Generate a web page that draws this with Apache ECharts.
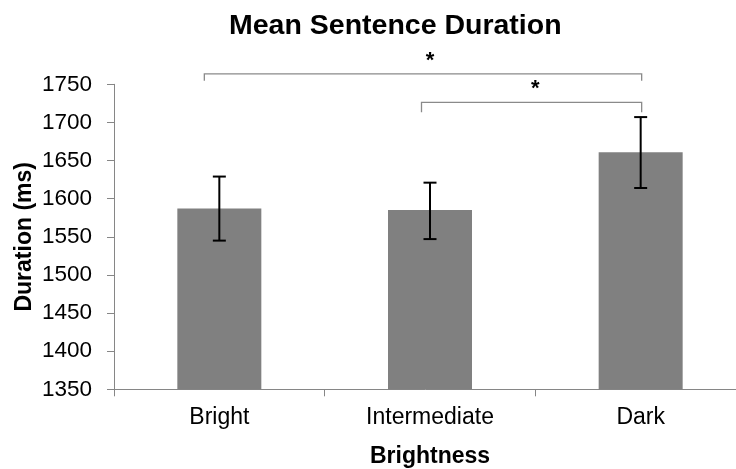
<!DOCTYPE html>
<html>
<head>
<meta charset="utf-8">
<script src="https://cdn.jsdelivr.net/npm/echarts@6/dist/echarts.min.js"></script>
<style>html,body{margin:0;padding:0;background:#fff}#chart{width:736px;height:469px}</style>
</head>
<body>
<div id="chart"></div>
<script>
const categories = ['Bright', 'Intermediate', 'Dark'];
const means = [1587, 1585, 1661];
const errLow = [1545, 1547, 1614];
const errHigh = [1629, 1621, 1707];
const yMin = 1350;
const yMax = 1750;
const yStep = 50;
const sigPairs = [[0, 2], [1, 2]];
const sigLabels = ['*', '*'];

const FONT = 'Liberation Sans, Arial, sans-serif';
const AXIS = '#868686';

// bracket drawing parameters (pixels relative to top of value axis)
const bracketLevel = [-10.5, 18];
const bracketLeg = [7, 10];
const bracketLeftPad = [-15, -8.5];
const bracketRightPad = [1, 1];

const chart = echarts.init(document.getElementById('chart'), null, {renderer: 'canvas'});

chart.setOption({
  animation: false,
  backgroundColor: '#fff',
  title: {
    text: 'Mean Sentence Duration',
    left: 224,
    top: 7,
    textStyle: {fontFamily: FONT, fontWeight: 'bold', fontSize: 28.5, color: '#000'}
  },
  grid: {left: 114, right: -10, top: 84.3, bottom: 79.7, containLabel: false, outerBoundsMode: 'none'},
  xAxis: {
    type: 'category',
    data: categories,
    boundaryGap: true,
    name: 'Brightness',
    nameLocation: 'middle',
    nameGap: 56,
    nameTextStyle: {fontFamily: FONT, fontWeight: 'bold', fontSize: 23, color: '#000'},
    axisLine: {show: true, lineStyle: {color: AXIS, width: 1}},
    axisTick: {show: true, length: 7, interval: 0, alignWithLabel: false, lineStyle: {color: AXIS}},
    axisLabel: {fontFamily: FONT, fontSize: 23, color: '#000', margin: 17, interval: 0},
    splitLine: {show: false}
  },
  yAxis: {
    type: 'value',
    min: yMin,
    max: yMax,
    interval: yStep,
    name: 'Duration (ms)',
    nameLocation: 'middle',
    nameGap: 78,
    nameRotate: 90,
    nameMoveOverlap: false,
    nameTextStyle: {fontFamily: FONT, fontWeight: 'bold', fontSize: 23, color: '#000'},
    axisLine: {show: true, lineStyle: {color: AXIS, width: 1}},
    axisTick: {show: true, length: 7, lineStyle: {color: AXIS}},
    axisLabel: {fontFamily: FONT, fontSize: 22.5, color: '#000', margin: 22, formatter: function (v) { return String(v); }},
    splitLine: {show: false}
  },
  series: [
    {
      type: 'bar',
      data: means,
      barWidth: 84,
      itemStyle: {color: '#808080'},
      silent: true,
      z: 2
    },
    {
      type: 'custom',
      data: categories.map((c, i) => [i, errLow[i], errHigh[i]]),
      encode: {x: 0, y: [1, 2]},
      clip: false,
      z: 5,
      renderItem: function (params, api) {
        const lo = api.coord([api.value(0), api.value(1)]);
        const hi = api.coord([api.value(0), api.value(2)]);
        const hw = 6.5;
        const st = {stroke: '#000', lineWidth: 2};
        return {
          type: 'group',
          children: [
            {type: 'line', shape: {x1: lo[0], y1: lo[1], x2: hi[0], y2: hi[1]}, style: st},
            {type: 'line', shape: {x1: lo[0] - hw, y1: lo[1], x2: lo[0] + hw, y2: lo[1]}, style: st},
            {type: 'line', shape: {x1: hi[0] - hw, y1: hi[1], x2: hi[0] + hw, y2: hi[1]}, style: st}
          ]
        };
      }
    },
    {
      type: 'custom',
      data: sigPairs.map((p, k) => [p[0], p[1], k]),
      encode: {x: 0},
      clip: false,
      z: 6,
      renderItem: function (params, api) {
        const a = api.value(0), b = api.value(1), k = api.value(2);
        const top = api.coord([a, yMax])[1];
        const xa = api.coord([a, yMax])[0] + bracketLeftPad[k];
        const xb = api.coord([b, yMax])[0] + bracketRightPad[k];
        const ly = top + bracketLevel[k];
        const leg = bracketLeg[k];
        const xm = (api.coord([a, yMax])[0] + api.coord([b, yMax])[0]) / 2;
        return {
          type: 'group',
          children: [
            {
              type: 'polyline',
              shape: {points: [[xa, ly + leg], [xa, ly], [xb, ly], [xb, ly + leg]]},
              style: {stroke: '#8a8a8a', lineWidth: 1.3, fill: null}
            },
            {
              type: 'text',
              style: {
                text: sigLabels[k], x: xm, y: ly - 13,
                align: 'center', verticalAlign: 'middle',
                font: 'bold 22px ' + FONT, fill: '#000'
              }
            }
          ]
        };
      }
    }
  ]
});
</script>
</body>
</html>
